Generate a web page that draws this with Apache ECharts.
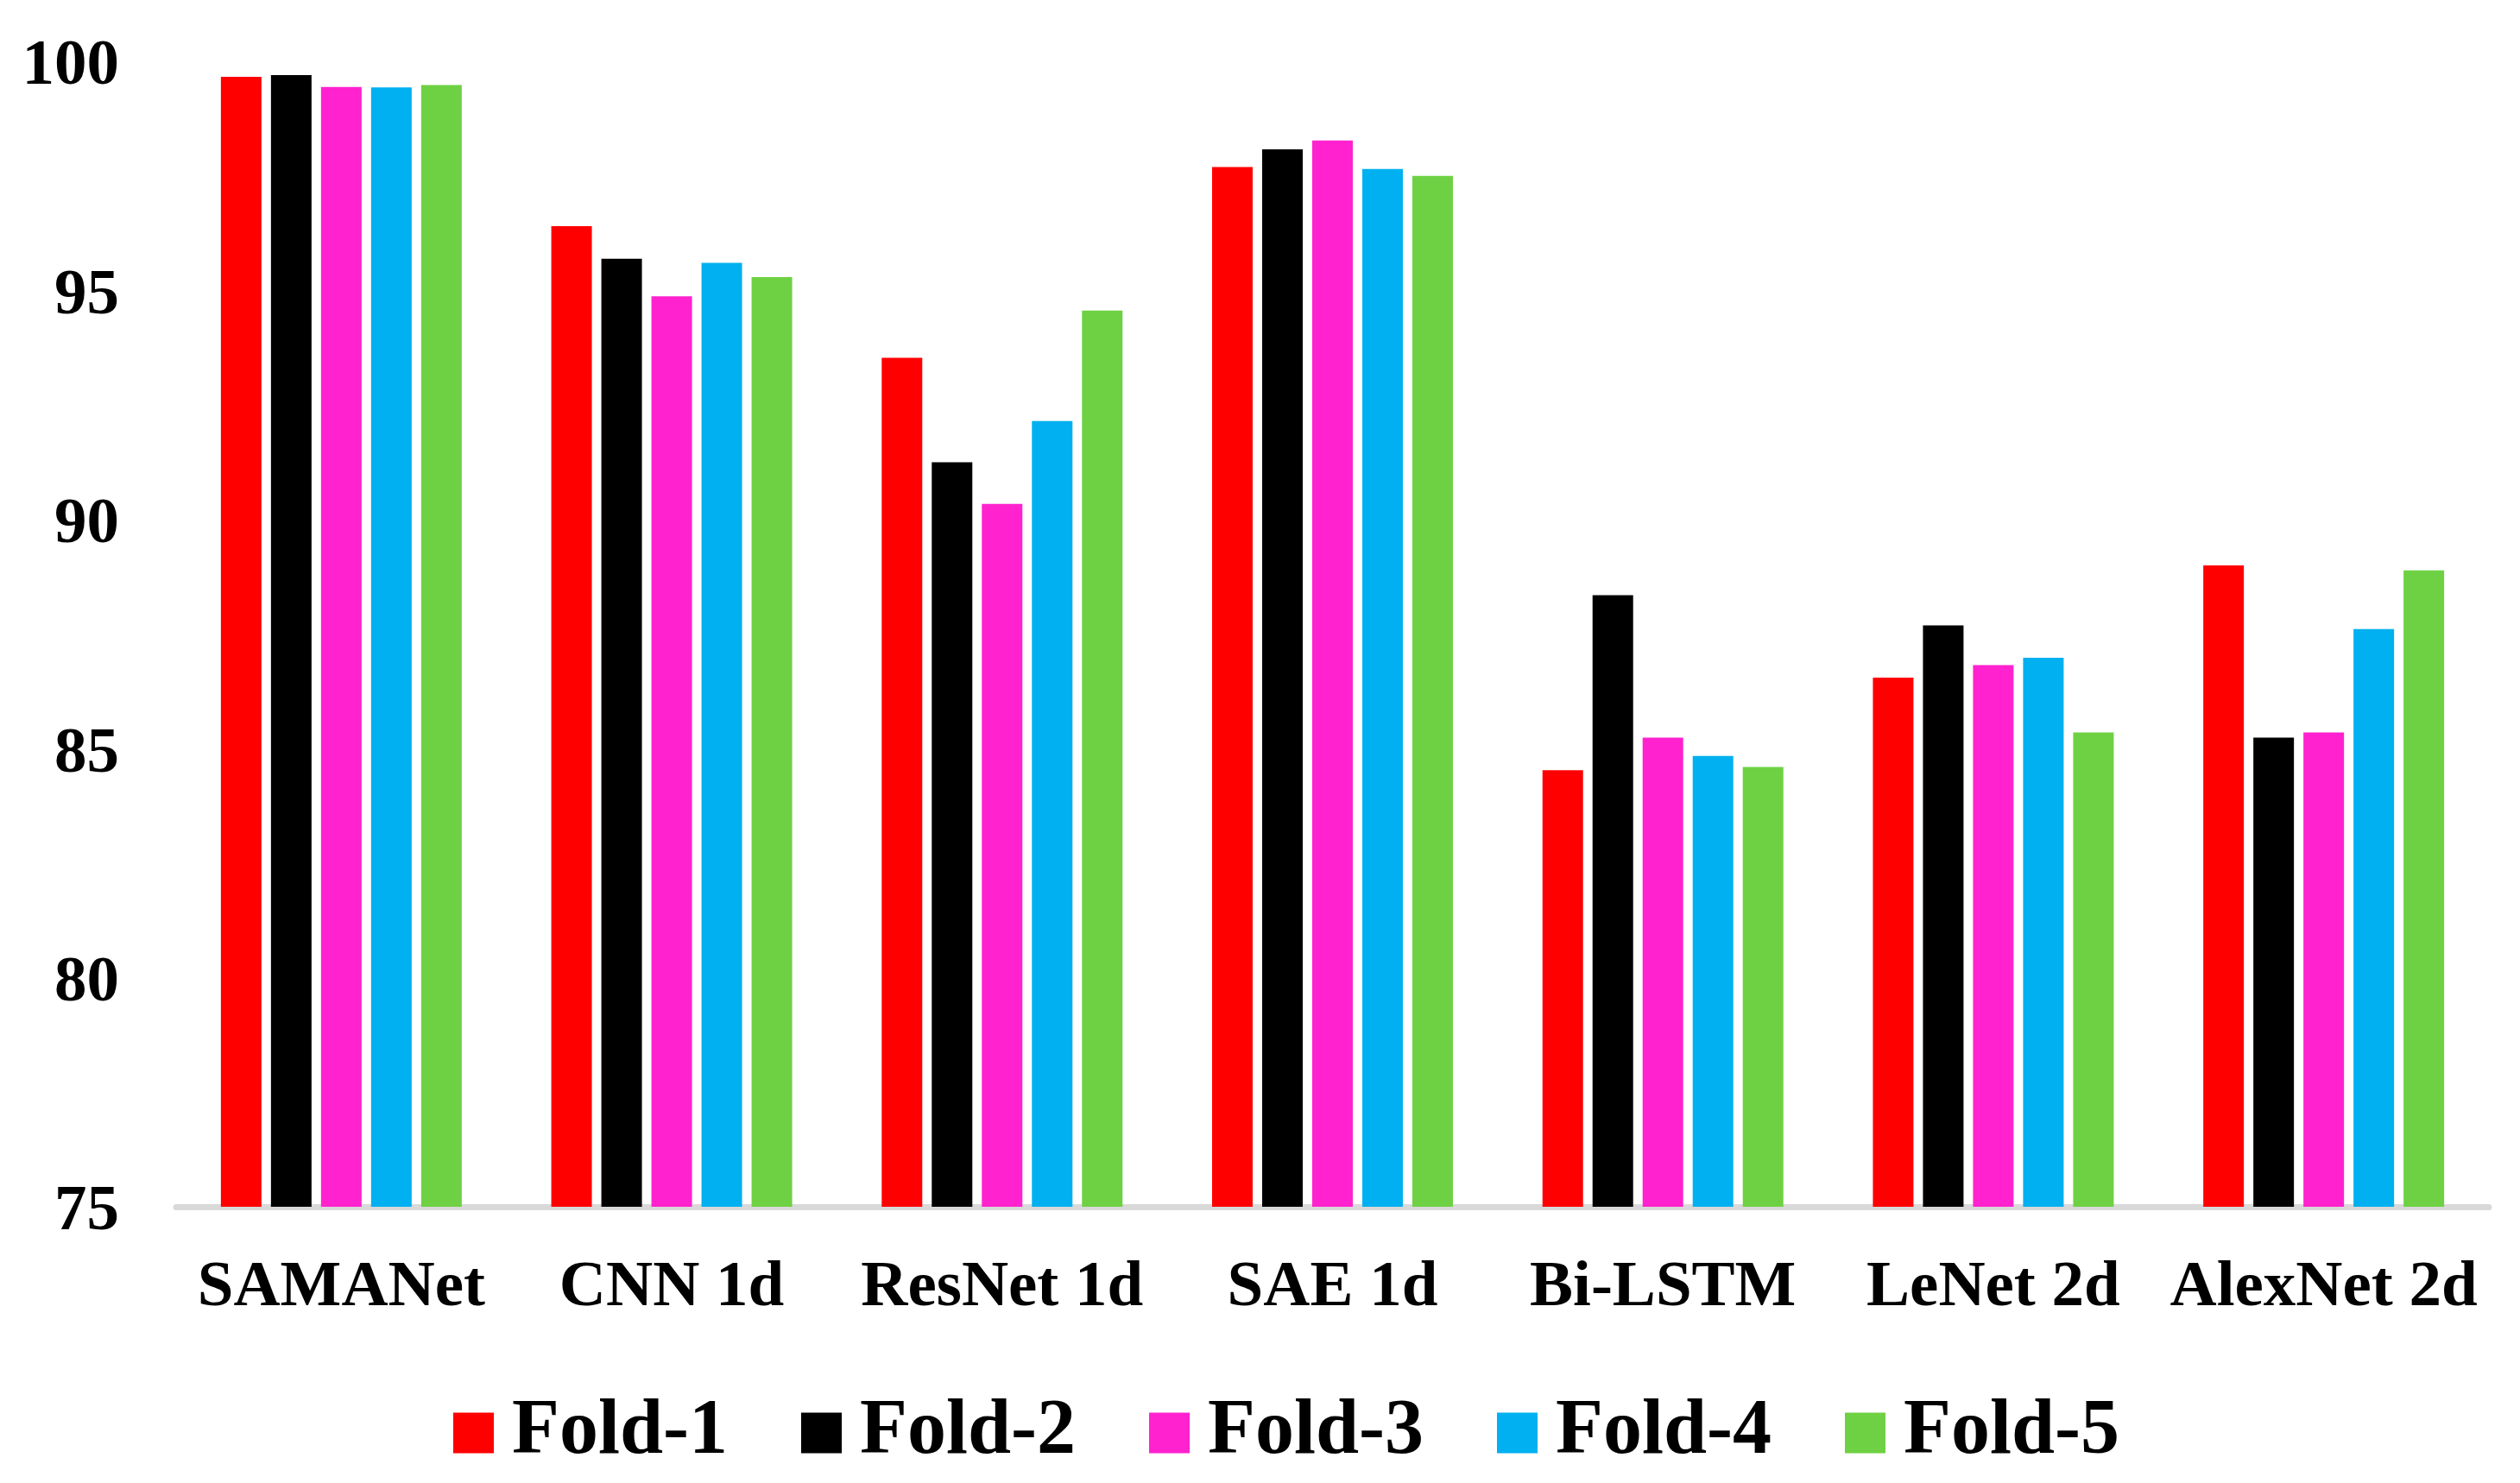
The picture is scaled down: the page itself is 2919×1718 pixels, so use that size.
<!DOCTYPE html>
<html>
<head>
<meta charset="utf-8">
<script src="https://cdn.jsdelivr.net/npm/echarts@6/dist/echarts.min.js"></script>
<style>
  html, body { margin: 0; padding: 0; background: #ffffff; }
  #chart { width: 2919px; height: 1718px; }
</style>
</head>
<body>
<div id="chart"></div>
<script>
const categories = ['SAMANet', 'CNN 1d', 'ResNet 1d', 'SAE 1d', 'Bi-LSTM', 'LeNet 2d', 'AlexNet 2d'];
const fold1 = [99.66, 96.40, 93.53, 97.69, 84.53, 86.55, 89.00];
const fold2 = [99.70, 95.69, 91.25, 98.08, 88.35, 87.69, 85.24];
const fold3 = [99.44, 94.87, 90.34, 98.27, 85.24, 86.82, 85.35];
const fold4 = [99.43, 95.60, 92.15, 97.65, 84.84, 86.98, 87.61];
const fold5 = [99.48, 95.29, 94.56, 97.50, 84.60, 85.35, 88.89];
const seriesNames = ['Fold-1', 'Fold-2', 'Fold-3', 'Fold-4', 'Fold-5'];
const yTicks = [75, 80, 85, 90, 95, 100];

const colors = ['#FF0000', '#000000', '#FF22CE', '#00B0F0', '#6ED143'];
const values = [fold1, fold2, fold3, fold4, fold5];
const fontFamily = '"Liberation Serif", "Times New Roman", serif';

const chart = echarts.init(document.getElementById('chart'), null, { renderer: 'canvas' });
chart.setOption({
  backgroundColor: '#ffffff',
  animation: false,
  color: colors,
  grid: { left: 204, right: 36, top: 71, bottom: 320, containLabel: false },
  legend: {
    data: seriesNames,
    left: 520,
    top: 1610,
    icon: 'rect',
    itemWidth: 47,
    itemHeight: 47,
    itemGap: 85,
    textStyle: {
      fontFamily: fontFamily,
      fontWeight: 'bold',
      fontSize: 90,
      color: '#000000',
      padding: [0, 0, 0, 16]
    }
  },
  xAxis: {
    type: 'category',
    data: categories,
    axisLine: { show: true, lineStyle: { color: '#D9D9D9', width: 7 } },
    axisTick: { show: false },
    axisLabel: {
      interval: 0,
      margin: 57,
      fontFamily: fontFamily,
      fontWeight: 'bold',
      fontSize: 75,
      color: '#000000'
    },
    splitLine: { show: false }
  },
  yAxis: {
    type: 'value',
    min: yTicks[0],
    max: yTicks[yTicks.length - 1],
    interval: yTicks[1] - yTicks[0],
    axisLine: { show: false },
    axisTick: { show: false },
    splitLine: { show: false },
    axisLabel: {
      margin: 66,
      fontFamily: fontFamily,
      fontWeight: 'bold',
      fontSize: 75,
      color: '#000000',
      verticalAlign: 'top',
      lineHeight: 14
    }
  },
  series: seriesNames.map((name, i) => ({
    name: name,
    type: 'bar',
    data: values[i],
    barWidth: 47,
    barGap: '23.4%',
    itemStyle: { color: colors[i] }
  }))
});
</script>
</body>
</html>
